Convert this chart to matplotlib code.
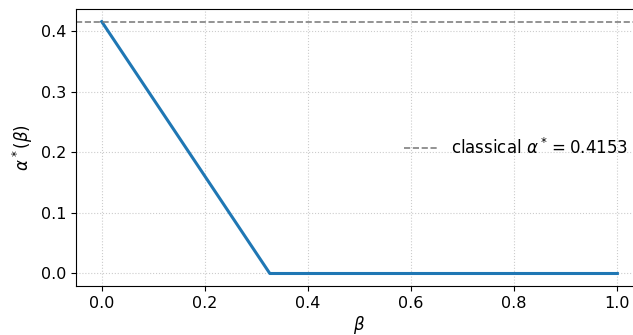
import matplotlib
matplotlib.use("Agg")
import matplotlib.pyplot as plt

# data
beta = [0.0, 0.326, 1.0]
alpha_star = [0.4153, 0.0, 0.0]
alpha_classical = 0.4153

plt.rcParams['font.size'] = 12
plt.rcParams['xtick.labelsize'] = 11.5
plt.rcParams['ytick.labelsize'] = 11.5

fig = plt.figure(figsize=(6.33, 3.35), dpi=100)
ax = fig.add_axes([0.120, 0.146, 0.896, 0.827])

ax.plot(beta, alpha_star, color='#1f77b4', linewidth=2.2)
ax.axhline(alpha_classical, color='gray', linestyle='--', linewidth=1.2,
           label=r'classical $\alpha^* = %.4f$' % alpha_classical)

ax.set_xlabel(r'$\beta$', labelpad=2)
ax.set_ylabel(r'$\alpha^*(\beta)$')
ax.set_xticks([0.0, 0.2, 0.4, 0.6, 0.8, 1.0])
ax.set_yticks([0.0, 0.1, 0.2, 0.3, 0.4])
ax.grid(True, linestyle=':', color='#cccccc', linewidth=0.8)
ax.legend(loc='center right', frameon=False)

fig.savefig('out.png', dpi=100)
